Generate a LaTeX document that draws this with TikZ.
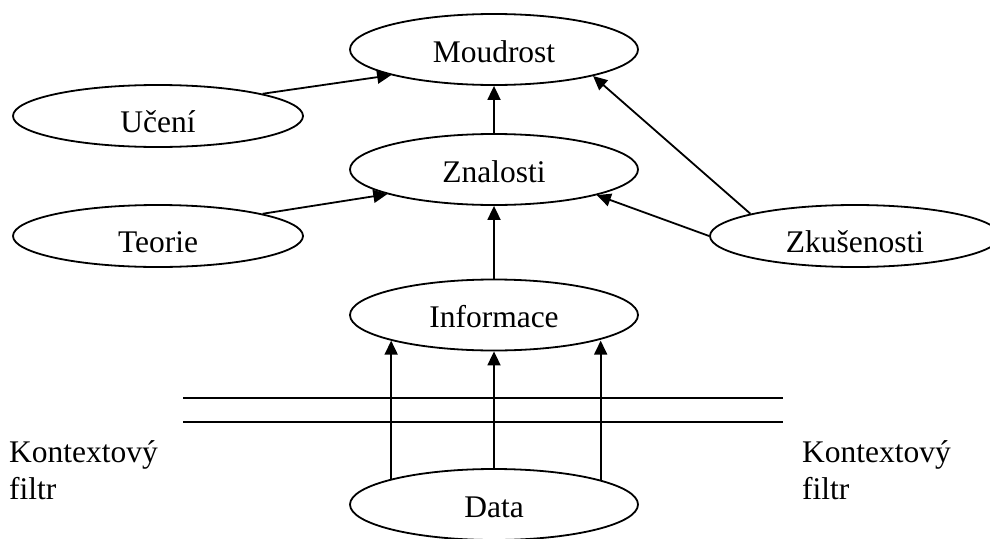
\documentclass[tikz,border=0pt]{standalone}
\usepackage{fontspec}
\setmainfont{Liberation Serif}
\usetikzlibrary{shapes.geometric,arrows.meta}
\tikzset{
  concept/.style={ellipse, draw, line width=1.8pt, inner sep=0pt,
    minimum width=288pt, minimum height=71pt,
    text height=25pt, text depth=0pt,
    font=\fontsize{31.5}{37}\selectfont},
  sideconcept/.style={concept, minimum width=290pt, minimum height=62pt,
    text height=32pt},
  flow/.style={line width=1.8pt, -{Triangle[length=14pt,width=13pt]}},
  filterline/.style={line width=2pt},
  filtertext/.style={font=\fontsize{31.5}{37}\selectfont, align=left,
    anchor=north west, inner sep=0pt}
}
\begin{document}
\begin{tikzpicture}[x=1pt,y=-1pt]
  \useasboundingbox (0,0) rectangle (990,538);
  \clip (0,0) rectangle (990,538);

  % main chain
  \node[concept] (moud) at (494,49.5)  {Moudrost};
  \node[concept] (znal) at (494,169.5) {Znalosti};
  \node[concept] (info) at (494,315)   {Informace};
  \node[concept] (data) at (494,504.5) {Data};

  % side sources
  \node[sideconcept] (ucen) at (158,116) {Učení};
  \node[sideconcept] (teor) at (158,236) {Teorie};
  \node[sideconcept] (zkus) at (855,236) {Zkušenosti};

  % context filter
  \coordinate (fa1) at (183,398);
  \coordinate (fb1) at (783,398);
  \coordinate (fa2) at (183,422);
  \coordinate (fb2) at (783,422);
  \draw[filterline] (fa1) -- (fb1);
  \draw[filterline] (fa2) -- (fb2);
  \node[filtertext] (ctxl) at (9,440)   {Kontextový\\filtr};
  \node[filtertext] (ctxr) at (802,440) {Kontextový\\filtr};

  % connectors
  \draw[flow] (data.166) -- (data.166 |- info.194);
  \draw[flow] (data.north) -- (data.north |- info.south);
  \draw[flow] (data.13.5) -- (data.13.5 |- info.346);
  \draw[flow] (info.north) -- (znal.south);
  \draw[flow] (znal.north) -- (moud.south);
  \draw[flow] (ucen.12) -- (moud.194);
  \draw[flow] (teor.12) -- (znal.193);
  \draw[flow] (zkus.168) -- (moud.345);
  \draw[flow] (zkus.180) -- (znal.346);
\end{tikzpicture}
\end{document}
